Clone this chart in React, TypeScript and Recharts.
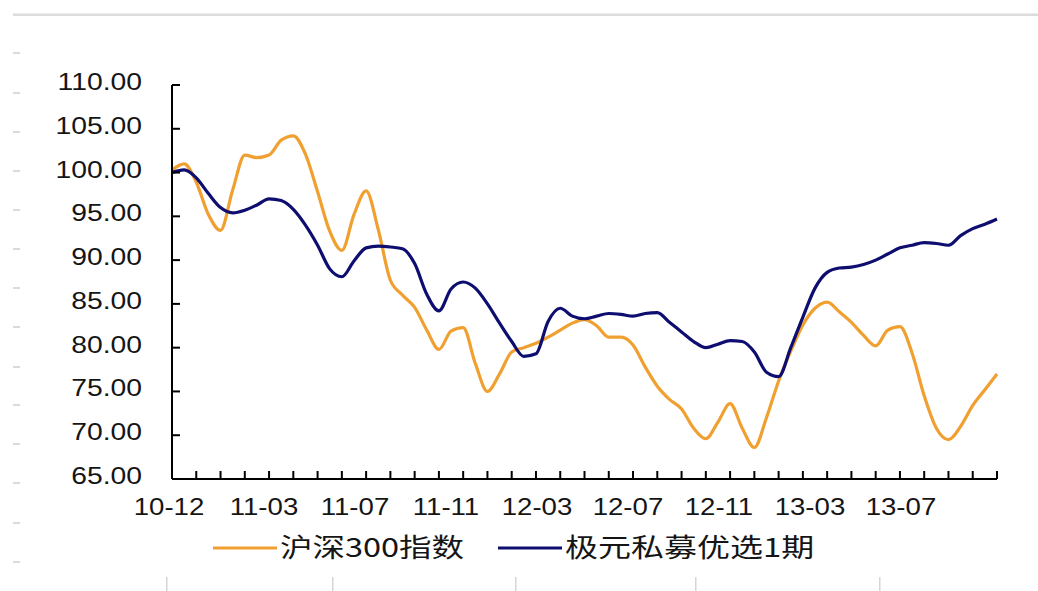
import { Line, LineChart, XAxis, YAxis } from "recharts";

// week index of each observation (the chart spans ~136 weeks, 2010-12 .. 2013-09)
const WEEKS = [
  0, 2, 4, 6, 8, 10, 12, 14, 16, 18,
  20, 22, 24, 26, 28, 30, 32, 34, 36, 38,
  40, 42, 44, 46, 48, 50, 52, 54, 56, 58,
  60, 62, 64, 66, 68, 70, 72, 74, 76, 78,
  80, 82, 84, 86, 88, 90, 92, 94, 96, 98,
  100, 102, 104, 106, 108, 110, 112, 114, 116, 118,
  120, 122, 124, 126, 128, 130, 132, 134, 136,
];

// 沪深300指数 (rebased to 100)
const HS300 = [
  100.3, 101.0, 98.9, 95.2, 93.4, 98.0, 102.0, 101.7, 102.0, 103.7,
  104.2, 102.1, 97.8, 93.3, 91.1, 95.2, 97.9, 93.5, 87.7, 86.0,
  84.6, 82.0, 79.8, 81.9, 82.3, 78.2, 75.0, 77.0, 79.5, 80.0,
  80.5, 81.2, 82.0, 82.8, 83.2, 82.5, 81.2, 81.2, 80.3, 77.8,
  75.6, 74.1, 73.0, 70.8, 69.6, 71.5, 73.6, 70.8, 68.6, 72.0,
  76.2, 79.6, 82.6, 84.5, 85.2, 84.1, 82.9, 81.4, 80.2, 82.0,
  82.4, 79.4, 74.5, 70.8, 69.5, 71.0, 73.4, 75.2, 77.0,
];

// 极元私募优选1期 (net value, rebased to 100)
const JIYUAN = [
  100.0, 100.3, 99.4, 97.6, 96.0, 95.4, 95.7, 96.3, 97.0, 96.8,
  95.8, 94.0, 91.7, 89.0, 88.1, 89.9, 91.4, 91.6, 91.5, 91.3,
  89.6, 86.1, 84.2, 86.7, 87.5, 86.8, 85.0, 82.8, 80.7, 79.0,
  79.3, 83.0, 84.5, 83.6, 83.3, 83.6, 83.9, 83.8, 83.6, 83.9,
  84.0, 82.9, 81.8, 80.7, 80.0, 80.4, 80.8, 80.7, 79.5, 77.2,
  76.7, 80.0, 83.5, 86.8, 88.6, 89.1, 89.2, 89.5, 90.0, 90.7,
  91.4, 91.7, 92.0, 91.9, 91.7, 92.8, 93.6, 94.1, 94.7,
];

const X_LABELS = ["10-12", "11-03", "11-07", "11-11", "12-03", "12-07", "12-11", "13-03", "13-07"];
const X_LABEL_WEEKS = [0, 15, 30, 45, 60, 75, 90, 105, 120];
const Y_TICKS = [65, 70, 75, 80, 85, 90, 95, 100, 105, 110];

const SERIES_NAMES = ["沪深300指数", "极元私募优选1期"];
const ORANGE = "#F0A030";
const NAVY = "#0E0E70";

const data = WEEKS.map((w, i) => ({ week: w, hs300: HS300[i], jiyuan: JIYUAN[i] }));

// inside tick marks every 4 weeks, labels every 15
const tickMarks = Array.from({ length: 35 }, (_, i) => i * 4);
const xTicks = Array.from(new Set([...tickMarks, ...X_LABEL_WEEKS])).sort((a, b) => a - b);

const NUM_FONT = "'Liberation Sans', Arial, sans-serif";
const CJK_FONT = "'Noto Sans CJK SC', sans-serif";

function XTick(props: any) {
  const { x, y, payload } = props;
  const v = payload.value;
  const idx = X_LABEL_WEEKS.indexOf(v);
  return (
    <g>
      {v % 4 === 0 && <line x1={x} x2={x} y1={y} y2={y - 8} stroke="#000" strokeWidth={2} />}
      {idx >= 0 && (
        <text
          transform={`translate(${idx === 0 ? x - 3 : x + 1},${y + 36}) scale(1.2,1)`}
          textAnchor="middle"
          fontFamily={NUM_FONT}
          fontSize={23}
          fill="#151515"
        >
          {X_LABELS[idx]}
        </text>
      )}
    </g>
  );
}

function YTick(props: any) {
  const { x, y, payload } = props;
  return (
    <g>
      <line x1={x} x2={x + 8} y1={y} y2={y} stroke="#000" strokeWidth={2} />
      <text
        transform={`translate(142,${y + 5}) scale(1.23,1)`}
        textAnchor="end"
        fontFamily={NUM_FONT}
        fontSize={23}
        fill="#151515"
      >
        {payload.value.toFixed(2)}
      </text>
    </g>
  );
}

const leftDashes = [53, 93, 132, 171, 210, 249, 288, 327, 367, 405, 444, 483, 523, 562];
const bottomMarks = [166, 332, 515, 695, 879];

export default function App() {
  return (
    <div style={{ position: "absolute", left: 0, top: 0, width: 1038, height: 591, background: "#fff" }}>
      <LineChart width={1038} height={591} data={data} margin={{ top: 85, right: 41, bottom: 72, left: 0 }}>
        <XAxis
          dataKey="week"
          type="number"
          domain={[0, 136]}
          ticks={xTicks}
          interval={0}
          height={40}
          tickSize={0}
          tickMargin={0}
          tickLine={false}
          axisLine={{ stroke: "#000", strokeWidth: 2 }}
          tick={<XTick />}
        />
        <YAxis
          domain={[65, 110]}
          ticks={Y_TICKS}
          interval={0}
          width={172}
          tickSize={0}
          tickMargin={0}
          tickLine={false}
          axisLine={{ stroke: "#000", strokeWidth: 2 }}
          tick={<YTick />}
        />
        <Line
          type="monotone"
          dataKey="hs300"
          name={SERIES_NAMES[0]}
          stroke={ORANGE}
          strokeWidth={3.2}
          dot={false}
          isAnimationActive={false}
        />
        <Line
          type="monotone"
          dataKey="jiyuan"
          name={SERIES_NAMES[1]}
          stroke={NAVY}
          strokeWidth={3.2}
          dot={false}
          isAnimationActive={false}
        />
      </LineChart>

      <svg
        width={1038}
        height={591}
        style={{ position: "absolute", left: 0, top: 0, pointerEvents: "none" }}
      >
        <rect x={13} y={13.5} width={1025} height={2.5} fill="#dcdcdc" />
        {leftDashes.map((yy) => (
          <rect key={yy} x={13} y={yy - 0.75} width={7} height={1.5} fill="#cfcfcf" />
        ))}
        {bottomMarks.map((xx) => (
          <rect key={xx} x={xx} y={577} width={1.5} height={14} fill="#d6d6d6" />
        ))}

        {/* legend */}
        <line x1={213} x2={277} y1={548} y2={548} stroke={ORANGE} strokeWidth={3} />
        <text
          transform="translate(280,557) scale(1.25,1)"
          fontFamily={CJK_FONT}
          fontSize={26}
          fill="#151515"
        >
          {SERIES_NAMES[0]}
        </text>
        <line x1={498} x2={562} y1={548} y2={548} stroke={NAVY} strokeWidth={3} />
        <text
          transform="translate(565,557) scale(1.27,1)"
          fontFamily={CJK_FONT}
          fontSize={26}
          fill="#151515"
        >
          {SERIES_NAMES[1]}
        </text>
      </svg>
    </div>
  );
}
